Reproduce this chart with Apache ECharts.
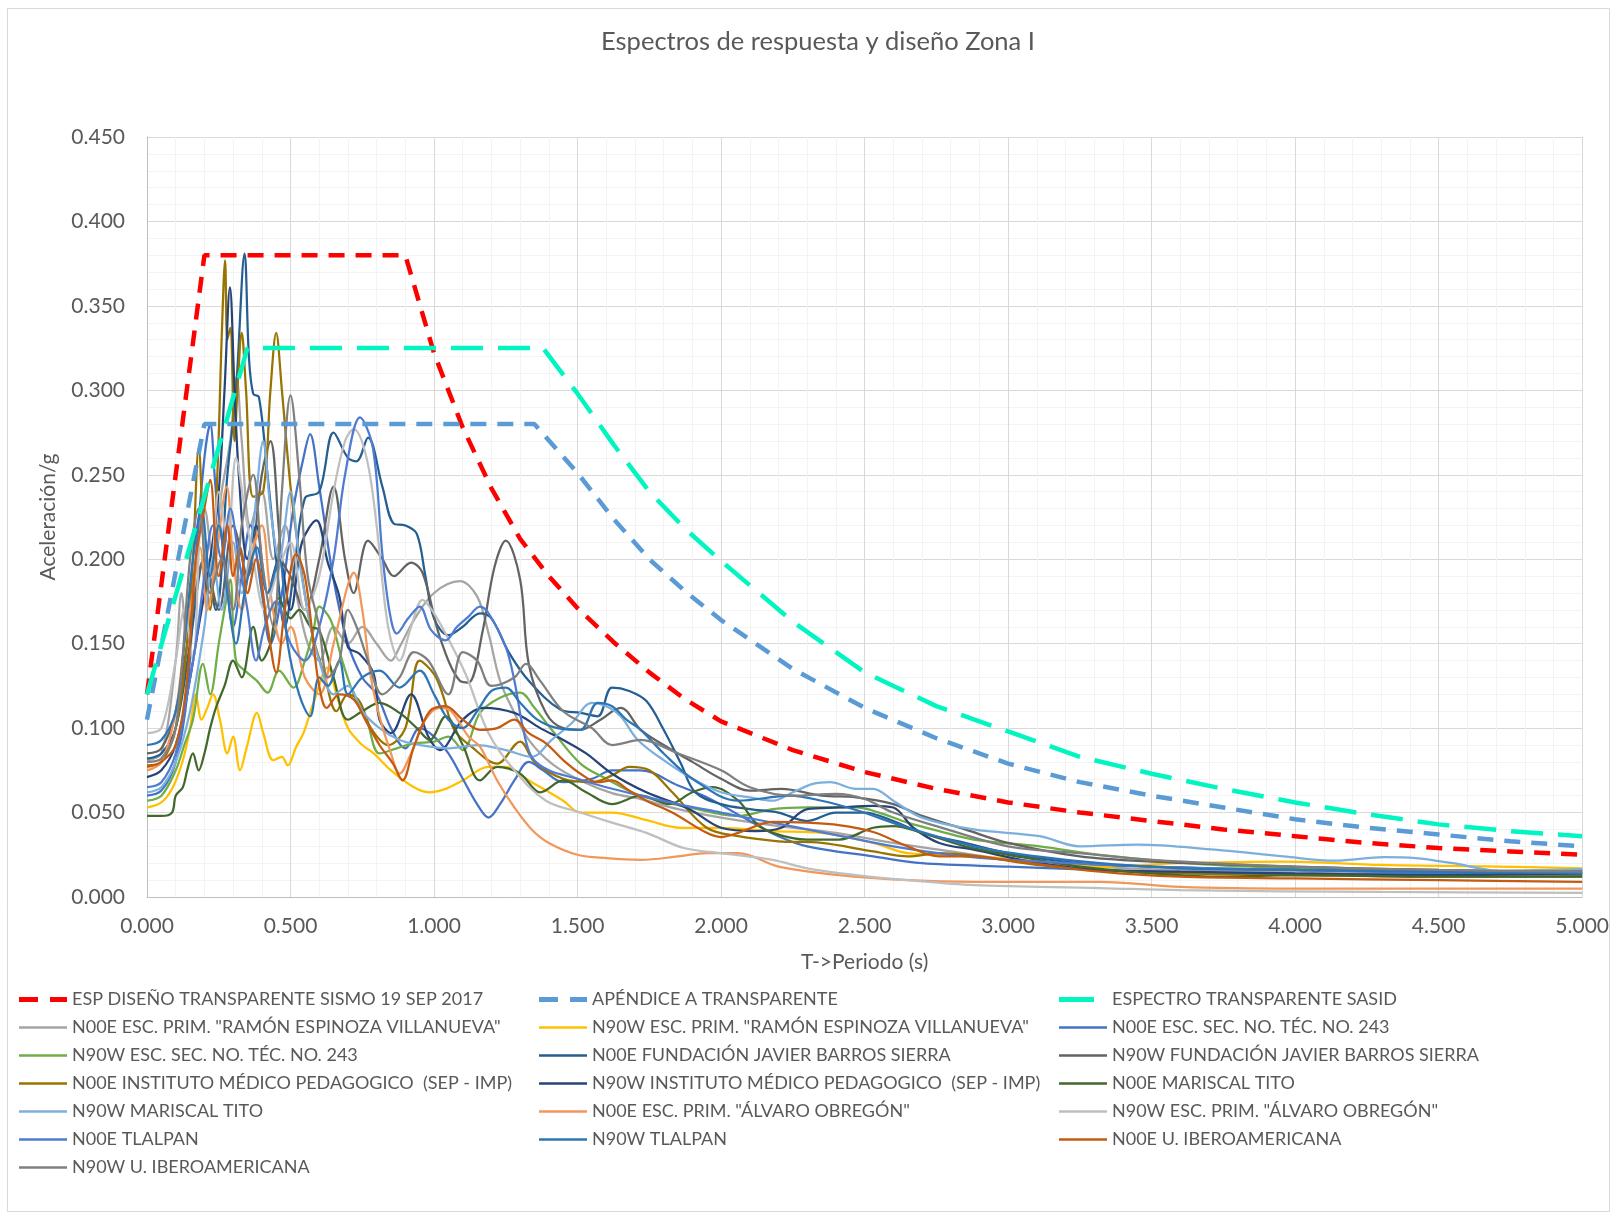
<!DOCTYPE html>
<html>
<head>
<meta charset="utf-8">
<script src="https://cdn.jsdelivr.net/npm/echarts@6/dist/echarts.min.js"></script>
<style>
html,body{margin:0;padding:0;background:#fff;}
#c{width:1612px;height:1212px;}
</style>
</head>
<body>
<div id="c"></div>
<script>
// ---- Tick labels / axis ----
const xTicks = [0, 0.5, 1, 1.5, 2, 2.5, 3, 3.5, 4, 4.5, 5];
const yTicks = [0, 0.05, 0.1, 0.15, 0.2, 0.25, 0.3, 0.35, 0.4, 0.45];

// ---- Series names ----
const names = [
  'ESP DISEÑO TRANSPARENTE SISMO 19 SEP 2017',
  'APÉNDICE A TRANSPARENTE',
  'ESPECTRO TRANSPARENTE SASID',
  'N00E ESC. PRIM. "RAMÓN ESPINOZA VILLANUEVA"',
  'N90W ESC. PRIM. "RAMÓN ESPINOZA VILLANUEVA"',
  'N00E ESC. SEC. NO. TÉC. NO. 243',
  'N90W ESC. SEC. NO. TÉC. NO. 243',
  'N00E FUNDACIÓN JAVIER BARROS SIERRA',
  'N90W FUNDACIÓN JAVIER BARROS SIERRA',
  'N00E INSTITUTO MÉDICO PEDAGOGICO  (SEP - IMP)',
  'N90W INSTITUTO MÉDICO PEDAGOGICO  (SEP - IMP)',
  'N00E MARISCAL TITO',
  'N90W MARISCAL TITO',
  'N00E ESC. PRIM. "ÁLVARO OBREGÓN"',
  'N90W ESC. PRIM. "ÁLVARO OBREGÓN"',
  'N00E TLALPAN',
  'N90W TLALPAN',
  'N00E U. IBEROAMERICANA',
  'N90W U. IBEROAMERICANA'
];

// ---- Design spectra [T, Sa/g] ----
const espDiseno = [[0,0.12],[0.2,0.38],[0.9,0.38],[1.0,0.322],[1.1,0.278],[1.2,0.242],[1.3,0.212],[1.4,0.19],[1.5,0.171],[1.625,0.151],[1.75,0.133],[1.875,0.117],[2.0,0.104],[2.25,0.087],[2.5,0.074],[2.75,0.064],[3.0,0.056],[3.25,0.05],[3.5,0.045],[3.75,0.04],[4.0,0.036],[4.25,0.032],[4.5,0.029],[4.75,0.027],[5.0,0.025]];
const apendiceA = [[0,0.105],[0.2,0.28],[1.35,0.28],[1.5,0.251],[1.625,0.224],[1.75,0.2],[1.875,0.181],[2.0,0.164],[2.25,0.135],[2.5,0.112],[2.75,0.094],[3.0,0.079],[3.25,0.068],[3.5,0.06],[3.75,0.053],[4.0,0.046],[4.25,0.041],[4.5,0.037],[4.75,0.033],[5.0,0.03]];
const sasid = [[0,0.12],[0.35,0.325],[1.38,0.325],[1.5,0.298],[1.625,0.268],[1.75,0.24],[1.875,0.218],[2.0,0.199],[2.25,0.163],[2.5,0.133],[2.75,0.113],[3.0,0.098],[3.25,0.083],[3.5,0.073],[3.75,0.064],[4.0,0.056],[4.25,0.049],[4.5,0.043],[4.75,0.039],[5.0,0.036]];

// ---- Recorded spectra [T, Sa/g] ----
const s04 = [[0,0.081],[0.05,0.085],[0.1,0.14],[0.12,0.18],[0.14,0.15],[0.17,0.2],[0.2,0.23],[0.23,0.2],[0.26,0.24],[0.29,0.27],[0.312,0.308],[0.33,0.27],[0.36,0.22],[0.4,0.24],[0.44,0.2],[0.48,0.22],[0.52,0.18],[0.56,0.15],[0.6,0.14],[0.65,0.16],[0.7,0.15],[0.75,0.16],[0.8,0.15],[0.85,0.14],[0.88,0.148],[0.93,0.164],[1.0,0.18],[1.09,0.187],[1.15,0.178],[1.19,0.156],[1.23,0.128],[1.28,0.109],[1.33,0.093],[1.41,0.079],[1.51,0.069],[1.62,0.0615],[1.72,0.058],[1.85,0.052],[2.0,0.047],[2.2,0.042],[2.4,0.038],[2.6,0.032],[2.8,0.027],[3.0,0.022],[3.3,0.018],[3.6,0.016],[4.0,0.015],[4.5,0.014],[5.0,0.014]];
const s05 = [[0,0.053],[0.05,0.056],[0.09,0.065],[0.125,0.081],[0.15,0.1],[0.17,0.12],[0.19,0.105],[0.21,0.112],[0.23,0.12],[0.254,0.105],[0.28,0.085],[0.3,0.095],[0.324,0.075],[0.348,0.089],[0.383,0.109],[0.405,0.097],[0.44,0.081],[0.47,0.083],[0.49,0.078],[0.52,0.089],[0.545,0.097],[0.58,0.115],[0.63,0.136],[0.66,0.12],[0.7,0.1],[0.75,0.09],[0.79,0.085],[0.85,0.075],[0.93,0.065],[0.985,0.062],[1.04,0.064],[1.1,0.069],[1.19,0.077],[1.25,0.077],[1.33,0.069],[1.45,0.057],[1.51,0.05],[1.62,0.05],[1.74,0.0455],[1.86,0.041],[2.0,0.041],[2.18,0.039],[2.35,0.038],[2.53,0.032],[2.65,0.026],[2.9,0.024],[3.1,0.021],[3.32,0.018],[3.6,0.02],[3.96,0.021],[4.3,0.019],[4.7,0.018],[5.0,0.017]];
const s06 = [[0,0.06],[0.05,0.063],[0.1,0.08],[0.14,0.12],[0.17,0.2],[0.2,0.26],[0.22,0.28],[0.24,0.24],[0.27,0.2],[0.3,0.16],[0.33,0.19],[0.36,0.22],[0.4,0.18],[0.43,0.15],[0.47,0.18],[0.51,0.23],[0.545,0.26],[0.568,0.274],[0.6,0.243],[0.65,0.188],[0.7,0.15],[0.75,0.13],[0.8,0.12],[0.85,0.1],[0.9,0.088],[0.95,0.1],[1.0,0.095],[1.05,0.085],[1.1,0.07],[1.15,0.055],[1.19,0.047],[1.23,0.055],[1.28,0.069],[1.33,0.08],[1.38,0.075],[1.45,0.068],[1.55,0.07],[1.62,0.075],[1.72,0.075],[1.85,0.066],[1.95,0.059],[2.1,0.045],[2.2,0.036],[2.3,0.03],[2.53,0.024],[2.7,0.02],[3.0,0.018],[3.5,0.015],[4.0,0.013],[4.5,0.014],[5.0,0.013]];
const s07 = [[0,0.057],[0.05,0.06],[0.1,0.075],[0.13,0.09],[0.16,0.105],[0.195,0.138],[0.22,0.12],[0.25,0.15],[0.27,0.17],[0.29,0.188],[0.31,0.14],[0.348,0.133],[0.383,0.128],[0.42,0.121],[0.46,0.134],[0.51,0.124],[0.55,0.14],[0.58,0.158],[0.6,0.172],[0.64,0.164],[0.68,0.14],[0.72,0.12],[0.765,0.105],[0.81,0.085],[0.87,0.088],[0.93,0.091],[1.0,0.092],[1.05,0.095],[1.1,0.087],[1.16,0.109],[1.23,0.118],[1.3,0.121],[1.35,0.112],[1.41,0.099],[1.51,0.079],[1.6,0.07],[1.72,0.06],[1.89,0.053],[2.06,0.048],[2.18,0.052],[2.3,0.053],[2.47,0.053],[2.55,0.05],[2.65,0.044],[2.76,0.039],[2.88,0.034],[3.11,0.03],[3.32,0.025],[3.72,0.019],[4.2,0.016],[4.6,0.015],[5.0,0.014]];
const s08 = [[0,0.082],[0.05,0.085],[0.1,0.1],[0.15,0.15],[0.2,0.2],[0.24,0.17],[0.28,0.25],[0.31,0.3],[0.34,0.381],[0.355,0.32],[0.37,0.298],[0.39,0.296],[0.42,0.25],[0.45,0.2],[0.48,0.16],[0.51,0.19],[0.55,0.236],[0.6,0.24],[0.65,0.275],[0.7,0.26],[0.73,0.258],[0.77,0.272],[0.82,0.243],[0.86,0.221],[0.9,0.22],[0.94,0.215],[0.97,0.19],[1.0,0.165],[1.05,0.155],[1.1,0.16],[1.16,0.168],[1.2,0.165],[1.26,0.145],[1.33,0.128],[1.44,0.111],[1.51,0.109],[1.57,0.107],[1.62,0.124],[1.68,0.122],[1.74,0.116],[1.8,0.099],[1.86,0.079],[1.91,0.062],[2.0,0.055],[2.1,0.052],[2.2,0.05],[2.3,0.045],[2.4,0.05],[2.5,0.05],[2.6,0.045],[2.7,0.038],[2.85,0.032],[3.0,0.026],[3.25,0.02],[3.5,0.018],[4.0,0.016],[4.5,0.015],[5.0,0.016]];
const s09 = [[0,0.085],[0.05,0.088],[0.1,0.11],[0.15,0.16],[0.2,0.2],[0.25,0.17],[0.3,0.22],[0.35,0.19],[0.4,0.25],[0.43,0.27],[0.47,0.2],[0.5,0.19],[0.55,0.17],[0.6,0.2],[0.65,0.243],[0.69,0.2],[0.72,0.18],[0.77,0.211],[0.82,0.2],[0.86,0.19],[0.92,0.198],[0.96,0.192],[1.02,0.154],[1.09,0.128],[1.12,0.127],[1.17,0.158],[1.21,0.195],[1.25,0.211],[1.3,0.188],[1.33,0.138],[1.39,0.109],[1.45,0.1],[1.51,0.099],[1.58,0.105],[1.65,0.112],[1.72,0.099],[1.8,0.09],[1.9,0.08],[2.0,0.07],[2.1,0.063],[2.21,0.064],[2.35,0.06],[2.47,0.059],[2.6,0.055],[2.7,0.048],[2.85,0.04],[3.0,0.032],[3.25,0.024],[3.5,0.021],[4.0,0.018],[4.5,0.016],[5.0,0.015]];
const s10 = [[0,0.078],[0.05,0.08],[0.1,0.1],[0.14,0.15],[0.16,0.2],[0.18,0.266],[0.2,0.2],[0.22,0.17],[0.245,0.25],[0.26,0.33],[0.272,0.377],[0.28,0.33],[0.29,0.337],[0.305,0.27],[0.315,0.3],[0.33,0.334],[0.345,0.3],[0.37,0.237],[0.405,0.24],[0.43,0.3],[0.45,0.334],[0.47,0.3],[0.5,0.243],[0.53,0.203],[0.57,0.16],[0.62,0.13],[0.66,0.11],[0.7,0.12],[0.74,0.116],[0.78,0.1],[0.84,0.09],[0.9,0.1],[0.95,0.14],[1.0,0.132],[1.03,0.12],[1.07,0.099],[1.13,0.089],[1.22,0.079],[1.3,0.092],[1.35,0.08],[1.45,0.07],[1.55,0.068],[1.62,0.072],[1.68,0.077],[1.75,0.075],[1.83,0.062],[1.95,0.041],[2.06,0.036],[2.2,0.033],[2.35,0.032],[2.53,0.027],[2.65,0.024],[2.76,0.026],[2.9,0.024],[3.1,0.019],[3.3,0.016],[3.6,0.014],[4.0,0.013],[4.5,0.012],[5.0,0.012]];
const s11 = [[0,0.071],[0.05,0.075],[0.1,0.09],[0.14,0.12],[0.18,0.16],[0.22,0.2],[0.25,0.24],[0.27,0.3],[0.289,0.361],[0.305,0.3],[0.32,0.25],[0.35,0.2],[0.38,0.22],[0.42,0.18],[0.46,0.2],[0.5,0.17],[0.54,0.21],[0.59,0.223],[0.63,0.198],[0.67,0.178],[0.7,0.148],[0.74,0.144],[0.79,0.132],[0.81,0.105],[0.85,0.097],[0.92,0.12],[0.98,0.095],[1.02,0.087],[1.1,0.105],[1.17,0.112],[1.28,0.109],[1.37,0.1],[1.45,0.093],[1.53,0.085],[1.62,0.073],[1.74,0.062],[1.89,0.052],[2.0,0.041],[2.12,0.039],[2.21,0.041],[2.3,0.052],[2.41,0.053],[2.53,0.054],[2.6,0.053],[2.67,0.041],[2.76,0.032],[2.88,0.028],[3.11,0.02],[3.32,0.016],[3.6,0.015],[4.0,0.014],[4.5,0.013],[5.0,0.014]];
const s12 = [[0,0.048],[0.05,0.048],[0.087,0.05],[0.1,0.06],[0.125,0.065],[0.14,0.075],[0.16,0.085],[0.18,0.075],[0.2,0.085],[0.22,0.1],[0.24,0.112],[0.27,0.125],[0.3,0.14],[0.33,0.13],[0.37,0.16],[0.4,0.14],[0.43,0.15],[0.46,0.177],[0.5,0.165],[0.53,0.17],[0.57,0.16],[0.6,0.158],[0.65,0.13],[0.7,0.105],[0.75,0.11],[0.81,0.115],[0.88,0.109],[0.94,0.1],[0.985,0.093],[1.04,0.107],[1.1,0.09],[1.16,0.069],[1.22,0.077],[1.3,0.073],[1.37,0.062],[1.45,0.069],[1.53,0.062],[1.62,0.055],[1.72,0.06],[1.82,0.055],[1.9,0.062],[1.97,0.065],[2.06,0.057],[2.12,0.044],[2.18,0.038],[2.3,0.034],[2.41,0.034],[2.53,0.041],[2.6,0.042],[2.7,0.038],[2.85,0.03],[3.0,0.025],[3.25,0.018],[3.5,0.014],[3.75,0.012],[4.0,0.013],[4.5,0.012],[5.0,0.012]];
const s13 = [[0,0.062],[0.05,0.065],[0.1,0.08],[0.15,0.11],[0.2,0.16],[0.23,0.2],[0.26,0.17],[0.3,0.21],[0.33,0.18],[0.37,0.22],[0.405,0.27],[0.43,0.23],[0.46,0.2],[0.5,0.24],[0.53,0.2],[0.57,0.16],[0.6,0.14],[0.65,0.12],[0.7,0.125],[0.75,0.11],[0.81,0.1],[0.88,0.093],[0.95,0.09],[1.05,0.088],[1.15,0.09],[1.25,0.087],[1.34,0.083],[1.41,0.093],[1.48,0.103],[1.55,0.115],[1.6,0.113],[1.65,0.107],[1.71,0.093],[1.8,0.081],[1.9,0.07],[2.0,0.062],[2.1,0.059],[2.18,0.057],[2.25,0.062],[2.32,0.067],[2.38,0.068],[2.47,0.064],[2.53,0.064],[2.6,0.057],[2.7,0.047],[2.88,0.04],[3.11,0.036],[3.25,0.03],[3.45,0.031],[3.72,0.028],[3.96,0.024],[4.14,0.0215],[4.31,0.0236],[4.42,0.023],[4.55,0.02],[4.72,0.0155],[5.0,0.0165]];
const s14 = [[0,0.075],[0.05,0.08],[0.1,0.11],[0.13,0.15],[0.16,0.18],[0.185,0.207],[0.21,0.17],[0.24,0.2],[0.278,0.243],[0.3,0.2],[0.33,0.17],[0.36,0.2],[0.4,0.22],[0.43,0.18],[0.47,0.15],[0.5,0.16],[0.55,0.13],[0.6,0.12],[0.65,0.15],[0.7,0.185],[0.72,0.192],[0.75,0.17],[0.78,0.13],[0.81,0.107],[0.85,0.085],[0.88,0.073],[0.92,0.085],[0.97,0.105],[1.02,0.112],[1.06,0.11],[1.12,0.095],[1.16,0.089],[1.22,0.069],[1.28,0.053],[1.34,0.04],[1.4,0.032],[1.5,0.025],[1.6,0.023],[1.72,0.022],[1.85,0.024],[1.95,0.026],[2.06,0.026],[2.2,0.018],[2.41,0.013],[2.65,0.01],[2.88,0.009],[3.32,0.009],[3.6,0.006],[4.0,0.005],[4.5,0.005],[5.0,0.005]];
const s15 = [[0,0.097],[0.05,0.1],[0.1,0.14],[0.13,0.17],[0.16,0.14],[0.19,0.22],[0.22,0.19],[0.25,0.24],[0.28,0.21],[0.31,0.26],[0.34,0.23],[0.37,0.2],[0.41,0.17],[0.45,0.19],[0.5,0.21],[0.55,0.17],[0.6,0.19],[0.65,0.24],[0.69,0.27],[0.72,0.277],[0.765,0.26],[0.8,0.22],[0.84,0.16],[0.88,0.14],[0.92,0.16],[0.96,0.176],[1.0,0.168],[1.04,0.156],[1.11,0.132],[1.19,0.097],[1.28,0.075],[1.39,0.057],[1.51,0.05],[1.62,0.044],[1.74,0.038],[1.87,0.029],[2.0,0.026],[2.18,0.022],[2.3,0.017],[2.47,0.013],[2.65,0.01],[2.88,0.007],[3.32,0.0053],[3.6,0.004],[4.3,0.003],[5.0,0.0025]];
const s16 = [[0,0.065],[0.05,0.068],[0.1,0.085],[0.14,0.12],[0.17,0.15],[0.2,0.19],[0.23,0.22],[0.26,0.2],[0.29,0.23],[0.32,0.2],[0.35,0.17],[0.38,0.14],[0.41,0.16],[0.45,0.175],[0.5,0.15],[0.55,0.14],[0.6,0.16],[0.65,0.2],[0.69,0.25],[0.742,0.284],[0.787,0.266],[0.82,0.203],[0.846,0.168],[0.87,0.156],[0.91,0.165],[0.95,0.172],[0.99,0.158],[1.04,0.152],[1.08,0.16],[1.12,0.166],[1.16,0.172],[1.19,0.168],[1.25,0.148],[1.28,0.128],[1.31,0.1],[1.34,0.083],[1.4,0.075],[1.5,0.07],[1.6,0.065],[1.72,0.06],[1.85,0.055],[2.0,0.05],[2.15,0.045],[2.3,0.04],[2.45,0.035],[2.6,0.03],[2.8,0.025],[3.0,0.022],[3.5,0.018],[4.0,0.016],[4.5,0.015],[5.0,0.015]];
const s17 = [[0,0.09],[0.05,0.093],[0.1,0.11],[0.13,0.15],[0.16,0.2],[0.19,0.23],[0.22,0.19],[0.25,0.22],[0.28,0.18],[0.31,0.15],[0.34,0.18],[0.383,0.207],[0.42,0.18],[0.46,0.2],[0.49,0.15],[0.53,0.12],[0.568,0.107],[0.6,0.13],[0.63,0.125],[0.67,0.14],[0.7,0.12],[0.75,0.13],[0.81,0.134],[0.88,0.124],[0.95,0.134],[1.0,0.12],[1.05,0.105],[1.1,0.1],[1.15,0.11],[1.2,0.122],[1.25,0.124],[1.3,0.115],[1.36,0.105],[1.43,0.1],[1.51,0.099],[1.57,0.115],[1.62,0.113],[1.67,0.105],[1.72,0.099],[1.8,0.085],[1.9,0.07],[2.06,0.057],[2.24,0.06],[2.35,0.057],[2.47,0.0515],[2.65,0.041],[2.88,0.03],[3.1,0.024],[3.32,0.02],[3.6,0.017],[4.0,0.016],[4.5,0.015],[5.0,0.014]];
const s18 = [[0,0.077],[0.05,0.08],[0.1,0.09],[0.14,0.13],[0.17,0.2],[0.2,0.23],[0.22,0.247],[0.25,0.19],[0.28,0.22],[0.3,0.19],[0.324,0.207],[0.35,0.18],[0.38,0.2],[0.42,0.16],[0.45,0.133],[0.48,0.17],[0.52,0.203],[0.55,0.19],[0.58,0.15],[0.6,0.125],[0.626,0.112],[0.67,0.12],[0.72,0.117],[0.76,0.105],[0.81,0.09],[0.857,0.079],[0.89,0.069],[0.93,0.089],[0.985,0.11],[1.04,0.113],[1.1,0.105],[1.16,0.099],[1.22,0.1],[1.28,0.105],[1.33,0.097],[1.39,0.091],[1.45,0.081],[1.51,0.073],[1.57,0.068],[1.62,0.069],[1.68,0.063],[1.74,0.057],[1.83,0.05],[1.95,0.038],[2.0,0.0355],[2.06,0.038],[2.18,0.0445],[2.3,0.044],[2.41,0.0426],[2.53,0.0385],[2.65,0.03],[2.76,0.024],[2.88,0.024],[2.99,0.022],[3.32,0.015],[3.6,0.012],[4.0,0.011],[4.5,0.01],[5.0,0.009]];
const s19 = [[0,0.08],[0.05,0.082],[0.1,0.1],[0.15,0.2],[0.18,0.23],[0.22,0.18],[0.26,0.2],[0.3,0.17],[0.33,0.22],[0.37,0.25],[0.4,0.2],[0.44,0.16],[0.47,0.24],[0.5,0.297],[0.53,0.25],[0.56,0.19],[0.6,0.16],[0.63,0.13],[0.67,0.14],[0.7,0.17],[0.73,0.16],[0.77,0.14],[0.82,0.12],[0.88,0.13],[0.93,0.145],[0.98,0.14],[1.05,0.12],[1.1,0.145],[1.15,0.14],[1.2,0.125],[1.28,0.13],[1.32,0.138],[1.37,0.128],[1.45,0.11],[1.55,0.1],[1.62,0.09],[1.72,0.093],[1.85,0.085],[2.0,0.075],[2.1,0.065],[2.25,0.06],[2.4,0.061],[2.5,0.058],[2.6,0.05],[2.75,0.042],[3.0,0.03],[3.25,0.026],[3.5,0.022],[4.0,0.018],[4.5,0.016],[5.0,0.015]];

const recordData = [s04,s05,s06,s07,s08,s09,s10,s11,s12,s13,s14,s15,s16,s17,s18,s19];
const recordColors = ['#A5A5A5','#FFC000','#4472C4','#70AD47','#255E91','#636363','#997300','#264478','#43682B','#7CAFDD','#F1975A','#BFBFBF','#4F7BD0','#2E75B6','#C55A11','#7F7F7F'];

const FONT = 'Lato, "Open Sans", sans-serif';
const TXT = '#595959';

const series = [];
function designSeries(name, data, color, dash) {
  return { name, type:'line', data, symbol:'none', smooth:false, z:5,
    lineStyle:{ color, width:4.5, type:dash, cap:'butt' }, itemStyle:{color}, emphasis:{disabled:true} };
}
series.push(designSeries(names[0], espDiseno, '#FF0000', [16,11]));
series.push(designSeries(names[1], apendiceA, '#5B9BD5', [16,11]));
series.push(designSeries(names[2], sasid, '#00F5C0', [32,15]));
recordData.forEach((d,i)=>{
  series.push({ name:names[i+3], type:'line', data:d, symbol:'none', smooth:0.35, z:3,
    lineStyle:{ color:recordColors[i], width:2.25 }, itemStyle:{color:recordColors[i]}, emphasis:{disabled:true} });
});

// legend icons (48 px wide)
const ICON_LINE = 'path://M0,0H48V2.5H0Z';
const ICON_DASH = 'path://M0,0H19V5H0Z M31,0H48V5H31Z';
const ICON_LONG = 'path://M0,0H35V5H0Z M47.95,2.49H48V2.51H47.95Z';
const iconFor = k => (k===0 || k===1) ? ICON_DASH : k===2 ? ICON_LONG : ICON_LINE;

const legendCols = [[0,3,6,9,12,15,18],[1,4,7,10,13,16],[2,5,8,11,14,17]];
const legendLeft = [14, 534, 1054];
const legends = legendCols.map((col,ci)=>({
  orient:'vertical', left:legendLeft[ci], top:984, itemWidth:48, itemHeight:14, itemGap:7,
  selectedMode:false,
  textStyle:{ fontFamily:FONT, fontSize:18, color:TXT, lineHeight:21 },
  data: col.map(k=>({ name:names[k], icon:iconFor(k) }))
}));

const chart = echarts.init(document.getElementById('c'), null, {renderer:'canvas'});
chart.setOption({
  animation:false,
  backgroundColor:'#fff',
  title:{ text:'Espectros de respuesta y diseño Zona I', left:813, textAlign:'center', top:24,
    textStyle:{ fontFamily:FONT, fontSize:25.5, fontWeight:'normal', color:TXT } },
  legend: legends,
  grid:{ left:147, right:26, top:137, bottom:315, containLabel:false },
  xAxis:{ type:'value', min:0, max:5, interval:0.5,
    name:'T->Periodo (s)', nameLocation:'middle', nameGap:55,
    nameTextStyle:{ fontFamily:FONT, fontSize:21, color:TXT },
    axisLine:{ show:true, onZero:false, lineStyle:{ color:'#BFBFBF', width:1 } },
    axisTick:{ show:false },
    axisLabel:{ fontFamily:FONT, fontSize:21, color:TXT, margin:19, formatter:v=>v.toFixed(3) },
    splitLine:{ show:true, lineStyle:{ color:'#D9D9D9', width:1 } },
    minorTick:{ show:false, splitNumber:5 },
    minorSplitLine:{ show:true, lineStyle:{ color:'#F3F3F3', width:1 } } },
  yAxis:{ type:'value', min:0, max:0.45, interval:0.05,
    name:'Aceleración/g', nameLocation:'middle', nameGap:88,
    nameTextStyle:{ fontFamily:FONT, fontSize:21, color:TXT },
    axisLine:{ show:true, lineStyle:{ color:'#BFBFBF', width:1 } },
    axisTick:{ show:false },
    axisLabel:{ fontFamily:FONT, fontSize:21, color:TXT, margin:22, formatter:v=>v.toFixed(3) },
    splitLine:{ show:true, lineStyle:{ color:'#D9D9D9', width:1 } },
    minorTick:{ show:false, splitNumber:5 },
    minorSplitLine:{ show:true, lineStyle:{ color:'#F3F3F3', width:1 } } },
  graphic:[{ type:'rect', left:5, top:6, shape:{ width:1602, height:1203 }, silent:true,
    style:{ fill:'none', stroke:'#D9D9D9', lineWidth:1 } }],
  series
});
</script>
</body>
</html>
